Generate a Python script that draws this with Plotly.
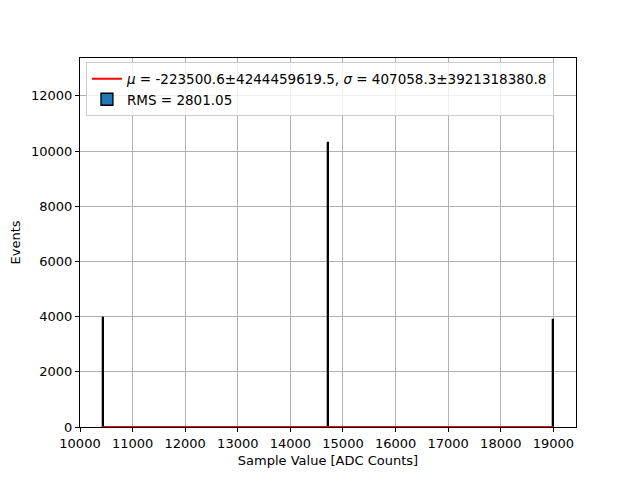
import plotly.graph_objects as go

# Histogram data (bin centers, counts)
bin_centers = [10447, 14727, 19000]
bin_counts = [3960, 10300, 3890]
bin_width = 12

# Fit curve (evaluated values, essentially zero across the range)
fit_x = [10430, 19000]
fit_y = [0, 0]

fit_label = "<i>μ</i> = -223500.6±4244459619.5, <i>σ</i> = 407058.3±3921318380.8"
rms_label = "RMS = 2801.05"

x_ticks = [10000, 11000, 12000, 13000, 14000, 15000, 16000, 17000, 18000, 19000]
y_ticks = [0, 2000, 4000, 6000, 8000, 10000, 12000]

fig = go.Figure()
fig.add_trace(go.Bar(
    x=bin_centers, y=bin_counts, width=[bin_width] * len(bin_centers),
    name=rms_label,
    marker=dict(color="#1f77b4", line=dict(color="black", width=1.3)),
))
fig.add_trace(go.Scatter(
    x=fit_x, y=fit_y, mode="lines", name=fit_label,
    line=dict(color="red", width=2),
))

font = dict(family="DejaVu Sans", size=13, color="black")
fig.update_layout(
    width=640, height=480,
    margin=dict(l=72, r=72, t=50, b=61),
    paper_bgcolor="white", plot_bgcolor="white",
    font=font,
    showlegend=True,
    legend=dict(
        x=0.012, y=0.988, xanchor="left", yanchor="top",
        bgcolor="rgba(255,255,255,0.8)", bordercolor="#cccccc", borderwidth=1,
        traceorder="reversed", font=dict(family="DejaVu Sans", size=13.5, color="black"),
        tracegroupgap=4,
    ),
    bargap=0,
)
fig.update_xaxes(
    range=[10000, 19430], tickvals=x_ticks, ticktext=[str(v) for v in x_ticks],
    showgrid=True, gridcolor="#b0b0b0", gridwidth=0.8,
    showline=True, linecolor="black", linewidth=1, mirror=True,
    ticks="outside", ticklen=4, tickcolor="black", zeroline=False, automargin=False,
    title=dict(text="Sample Value [ADC Counts]", font=font, standoff=6),
)
fig.update_yaxes(
    range=[0, 13370], tickvals=y_ticks, ticktext=[str(v) for v in y_ticks],
    showgrid=True, gridcolor="#b0b0b0", gridwidth=0.8,
    showline=True, linecolor="black", linewidth=1, mirror=True,
    ticks="outside", ticklen=4, tickcolor="black", zeroline=False, automargin=False,
    title=dict(text="Events", font=font, standoff=10),
)
fig.write_html("out.html")
